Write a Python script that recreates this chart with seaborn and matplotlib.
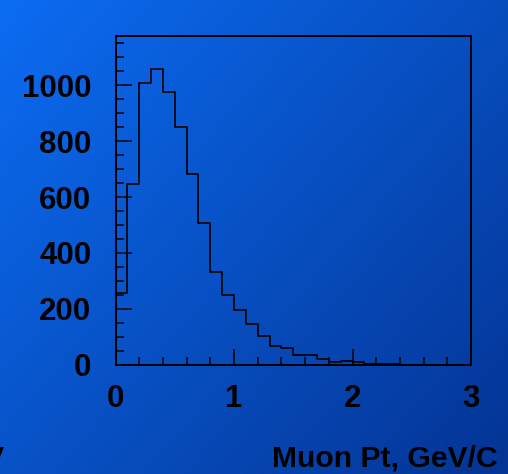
import numpy as np
import pandas as pd
import matplotlib
matplotlib.use("Agg")
import matplotlib.pyplot as plt
import seaborn as sns

# Muon transverse momentum spectrum, 0.1 GeV/c bins from 0 to 3
bin_edges = [round(0.1 * i, 1) for i in range(31)]
counts = [258, 647, 1006, 1056, 974, 849, 683, 506, 331, 249,
          195, 148, 102, 69, 61, 37, 35, 21, 12, 14,
          9, 5, 3, 2, 1, 1, 0, 0, 0, 0]
x_ticks = [0, 1, 2, 3]
y_ticks = [0, 200, 400, 600, 800, 1000]
x_label = "Muon Pt, GeV/C"

centers = [(a + b) / 2 for a, b in zip(bin_edges[:-1], bin_edges[1:])]
df = pd.DataFrame({"pt": centers, "n": counts})

sns.set_theme(style="ticks")
plt.rcParams["font.family"] = ["Liberation Sans", "DejaVu Sans"]
plt.rcParams["font.weight"] = "bold"

W, H = 508, 474
fig = plt.figure(figsize=(W / 100, H / 100), dpi=100)

# diagonal blue gradient backdrop
bg = fig.add_axes([0, 0, 1, 1], zorder=-10)
gx, gy = np.meshgrid(np.linspace(0, 1, 256), np.linspace(0, 1, 256))
t = np.clip(0.55 * gx + 0.45 * gy, 0, 1)
c0 = np.array([12, 108, 242]) / 255.0
c1 = np.array([4, 52, 148]) / 255.0
img = c0[None, None, :] * (1 - t[..., None]) + c1[None, None, :] * t[..., None]
bg.imshow(img, extent=[0, 1, 0, 1], aspect="auto", origin="upper")
bg.set_axis_off()

ax = fig.add_axes([115.5 / W, 1 - 365 / H, (471 - 115.5) / W, (365 - 36) / H])
ax.set_facecolor("none")

sns.histplot(data=df, x="pt", weights="n", bins=bin_edges, element="step",
             fill=False, color="black", linewidth=1.2, ax=ax)

ax.set_xlim(0, 3)
ax.set_ylim(0, 1175)
ax.set_xticks(x_ticks)
ax.set_yticks(y_ticks)
ax.set_xticks(np.arange(0, 3.0001, 0.2), minor=True)
ax.set_yticks(np.arange(0, 1175, 50), minor=True)
ax.set_xlabel("")
ax.set_ylabel("")

for s in ax.spines.values():
    s.set_visible(True)
    s.set_color("black")
    s.set_linewidth(1.4)

ax.tick_params(which="both", direction="in", color="black", width=1.1,
               labelsize=22.5, labelcolor="black")
ax.tick_params(which="major", length=11.5)
ax.tick_params(which="minor", length=5.8)
ax.tick_params(axis="x", which="major", pad=14)
ax.tick_params(axis="y", which="major", pad=17.5)
for lab in ax.get_xticklabels() + ax.get_yticklabels():
    lab.set_fontweight("bold")

fig.text(498 / W, 7.3 / H, x_label, ha="right", va="baseline",
         fontsize=21.7, fontweight="bold", color="black")
fig.text(4 / W, 7.3 / H, "V", ha="right", va="baseline",
         fontsize=21.7, fontweight="bold", color="black")

fig.savefig("out.png", dpi=100)
